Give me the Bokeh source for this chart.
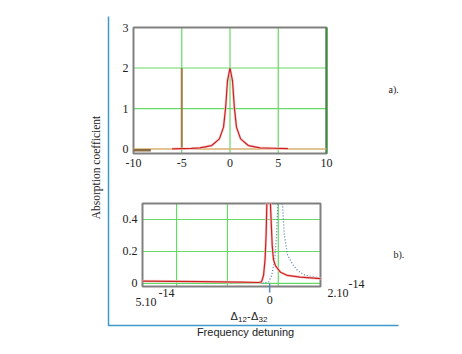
import math
import numpy as np
from bokeh.plotting import figure
from bokeh.models import Range1d, Label
from bokeh.core.properties import value
from bokeh.embed import file_html
from bokeh.resources import INLINE

NaN = float("nan")

# ---------------- data ----------------
# panel a)
top_red_x = [-6, -4, -3.1, -1.9, -1.1, -0.67, -0.45, -0.26, 0, 0.26, 0.45, 0.67, 1.1, 1.9, 3.1, 4.5, 6]
top_red_y = [0.005, 0.015, 0.03, 0.086, 0.25, 0.54, 1.03, 1.68, 2.0, 1.68, 1.03, 0.54, 0.25, 0.086, 0.03, 0.02, 0.01]
top_base_x = [-10, 10]
top_base_y = [0.0, 0.0]
top_left_x = [-10, -8.2]
top_left_y = [-0.03, -0.03]
top_bar_x = [-5, -5]
top_bar_y = [0, 2]
top_xlim = [-10, 10]
top_ylim = [-0.11, 3]
top_xticks = [-10, -5, 0, 5, 10]
top_xtick_labels = ["-10", "-5", "0", "5", "10"]
top_yticks = [0, 1, 2, 3]
top_ytick_labels = ["0", "1", "2", "3"]
top_xgrid = [-5, 0, 5]
top_ygrid = [1, 2]

# panel b)  (x in units of 1e-14; curves leave the plot at the top -> gap)
bot_red_x = [-5, -2.7, -1.15, -0.44, -0.32, -0.24, -0.18, -0.14, -0.11, NaN, 0.03, 0.1, 0.15, 0.23, 0.43, 0.7, 1.2, 2.0]
bot_red_y = [0.015, 0.012, 0.008, 0.006, 0.01, 0.05, 0.15, 0.3, 0.5, NaN, 0.5, 0.24, 0.15, 0.11, 0.07, 0.05, 0.04, 0.03]
bot_dot_x = [-0.28, -0.04, 0.08, 0.2, 0.27, 0.32, NaN, 0.5, 0.58, 0.7, 0.9, 1.1, 1.41, 2.0]
bot_dot_y = [0.0, 0.01, 0.05, 0.15, 0.3, 0.5, NaN, 0.5, 0.3, 0.18, 0.12, 0.08, 0.05, 0.035]
bot_xlim = [-5, 2]
bot_ylim = [-0.019, 0.5]
bot_xticks = [0]
bot_xtick_labels = ["0"]
bot_yticks = [0, 0.2, 0.4]
bot_ytick_labels = ["0", "0.2", "0.4"]
bot_xgrid = [-3.66, -1.66, 0.34]
bot_ygrid = [0, 0.2, 0.4]
bot_left_label = "5.10"
bot_right_label = "2.10"
bot_exp_label = "-14"

# ---------------- styles / layout (canvas pixels) ----------------
W, H = 446, 338
TOP_BOX = (133, 326, 27, 153)     # left, right, top, bottom
BOT_BOX = (142, 320, 203, 286)
GRID = "#66d966"
FRAME = "#808080"
BLUE = "#3f9acb"
RED = "#cc2020"
HALO = "#f6cccc"
TXT = "#222222"
SERIF = "Liberation Serif"
SANS = "Liberation Sans"


def prange(d0, p0, d1, p1, total):
    s = (d1 - d0) / (p1 - p0)
    return Range1d(start=d0 - p0 * s, end=d0 + (total - p0) * s)


p = figure(width=W, height=H, x_range=Range1d(0, W), y_range=Range1d(H, 0),
           min_border=0, x_axis_location=None, y_axis_location=None,
           output_backend="svg", toolbar_location=None)
p.grid.visible = False
p.outline_line_color = None
p.background_fill_color = "white"
p.border_fill_color = "white"

l, r, t, b = TOP_BOX
p.extra_x_ranges["ax"] = prange(top_xlim[0], l, top_xlim[1], r, W)
p.extra_y_ranges["ay"] = prange(top_ylim[0], H - b, top_ylim[1], H - t, H)
l, r, t, b = BOT_BOX
p.extra_x_ranges["bx"] = prange(bot_xlim[0], l, bot_xlim[1], r, W)
p.extra_y_ranges["by"] = prange(bot_ylim[0], H - b, bot_ylim[1], H - t, H)
bot_px_per_y = (b - t) / (bot_ylim[1] - bot_ylim[0])

A = dict(x_range_name="ax", y_range_name="ay")
B = dict(x_range_name="bx", y_range_name="by")

# ---------- panel a ----------
p.segment(x0=top_xgrid, x1=top_xgrid, y0=[top_ylim[0]] * len(top_xgrid), y1=[top_ylim[1]] * len(top_xgrid),
          line_color=GRID, line_width=1.2, **A)
p.segment(x0=[top_xlim[0]] * len(top_ygrid), x1=[top_xlim[1]] * len(top_ygrid), y0=top_ygrid, y1=top_ygrid,
          line_color=GRID, line_width=1.2, **A)
p.quad(left=top_xlim[0], right=top_xlim[1], bottom=top_ylim[0], top=top_ylim[1],
       fill_color=None, line_color=FRAME, line_width=2, **A)
p.segment(x0=top_xlim[1], x1=top_xlim[1], y0=top_ylim[0], y1=top_ylim[1],
          line_color="#3c8c3c", line_width=2, **A)
p.line(top_base_x, top_base_y, line_color="#d9b070", line_width=1.5, **A)
p.line(top_left_x, top_left_y, line_color="#8a6a40", line_width=2.5, **A)
p.line(top_bar_x, top_bar_y, line_color="#a67c48", line_width=2, **A)
p.line(top_red_x, top_red_y, line_color=HALO, line_width=2.6, **A)
p.line(top_red_x, top_red_y, line_color=RED, line_width=1.2, **A)
p.text(x=[top_xlim[0]] * len(top_yticks), y=top_yticks, text=top_ytick_labels, x_offset=-5,
       text_align="right", text_baseline="middle", text_font=value(SERIF),
       text_font_size=value("12px"), text_color=TXT, **A)
p.text(x=top_xticks, y=[top_ylim[0]] * len(top_xticks), text=top_xtick_labels, y_offset=9,
       text_align="center", text_baseline="middle", text_font=value(SERIF),
       text_font_size=value("12px"), text_color=TXT, **A)

# ---------- panel b ----------
p.segment(x0=bot_xgrid, x1=bot_xgrid, y0=[bot_ylim[0]] * len(bot_xgrid), y1=[bot_ylim[1]] * len(bot_xgrid),
          line_color=GRID, line_width=1.2, **B)
p.segment(x0=[bot_xlim[0]] * len(bot_ygrid), x1=[bot_xlim[1]] * len(bot_ygrid), y0=bot_ygrid, y1=bot_ygrid,
          line_color=GRID, line_width=1.2, **B)
p.quad(left=bot_xlim[0], right=bot_xlim[1], bottom=bot_ylim[0], top=bot_ylim[1],
       fill_color=None, line_color=FRAME, line_width=2, **B)
p.line(np.array(bot_dot_x), np.array(bot_dot_y), line_color="#5a7fb0", line_width=1.3, line_dash="1 2", **B)
p.line(np.array(bot_red_x), np.array(bot_red_y), line_color=HALO, line_width=2.6, **B)
p.line(np.array(bot_red_x), np.array(bot_red_y), line_color=RED, line_width=1.2, **B)
p.text(x=[bot_xlim[0]] * len(bot_yticks), y=bot_yticks, text=bot_ytick_labels, x_offset=-5,
       text_align="right", text_baseline="middle", text_font=value(SERIF),
       text_font_size=value("12px"), text_color=TXT, **B)
p.text(x=bot_xticks, y=[bot_ylim[0]] * len(bot_xticks), text=bot_xtick_labels, y_offset=13,
       text_align="center", text_baseline="middle", text_font=value(SERIF),
       text_font_size=value("12px"), text_color=TXT, **B)
# blue tick mark: 3 px inside the box, 6 px outside
tick_in = 3 / bot_px_per_y
tick_out = 6 / bot_px_per_y
p.segment(x0=bot_xticks, x1=bot_xticks,
          y0=[bot_ylim[0] + tick_in] * len(bot_xticks), y1=[bot_ylim[0] - tick_out] * len(bot_xticks),
          line_color="#5588bb", line_width=1.5, **B)

# ---------- free text & outer axes (canvas pixels) ----------
p.line([108, 108, 398], [16, 325, 325], line_color=BLUE, line_width=1.5)


def lab(x, y, text, font=SERIF, size="12px", align="left", angle=0.0):
    p.add_layout(Label(x=x, y=y, text=text, angle=angle, text_align=align, text_baseline="middle",
                       text_font=font, text_font_size=size, text_color=TXT))


lab(95, 167, "Absorption coefficient", size="11.5px", align="center", angle=math.pi / 2)
lab(388, 89, "a).", size="10px")
lab(393, 254, "b).", size="10px")
lab(135, 301, bot_left_label)
lab(158, 292.5, bot_exp_label)
lab(327, 292, bot_right_label)
lab(348, 283, bot_exp_label)
lab(230, 315, "Δ", font=SANS, size="11px")
lab(237.5, 319, "12", font=SANS, size="8px")
lab(246.5, 315, "-", font=SANS, size="11px")
lab(250.5, 315, "Δ", font=SANS, size="11px")
lab(258, 319, "32", font=SANS, size="8px")
lab(245, 331.5, "Frequency detuning", font=SANS, size="11px", align="center")

open("out.html", "w").write(file_html(p, INLINE))
